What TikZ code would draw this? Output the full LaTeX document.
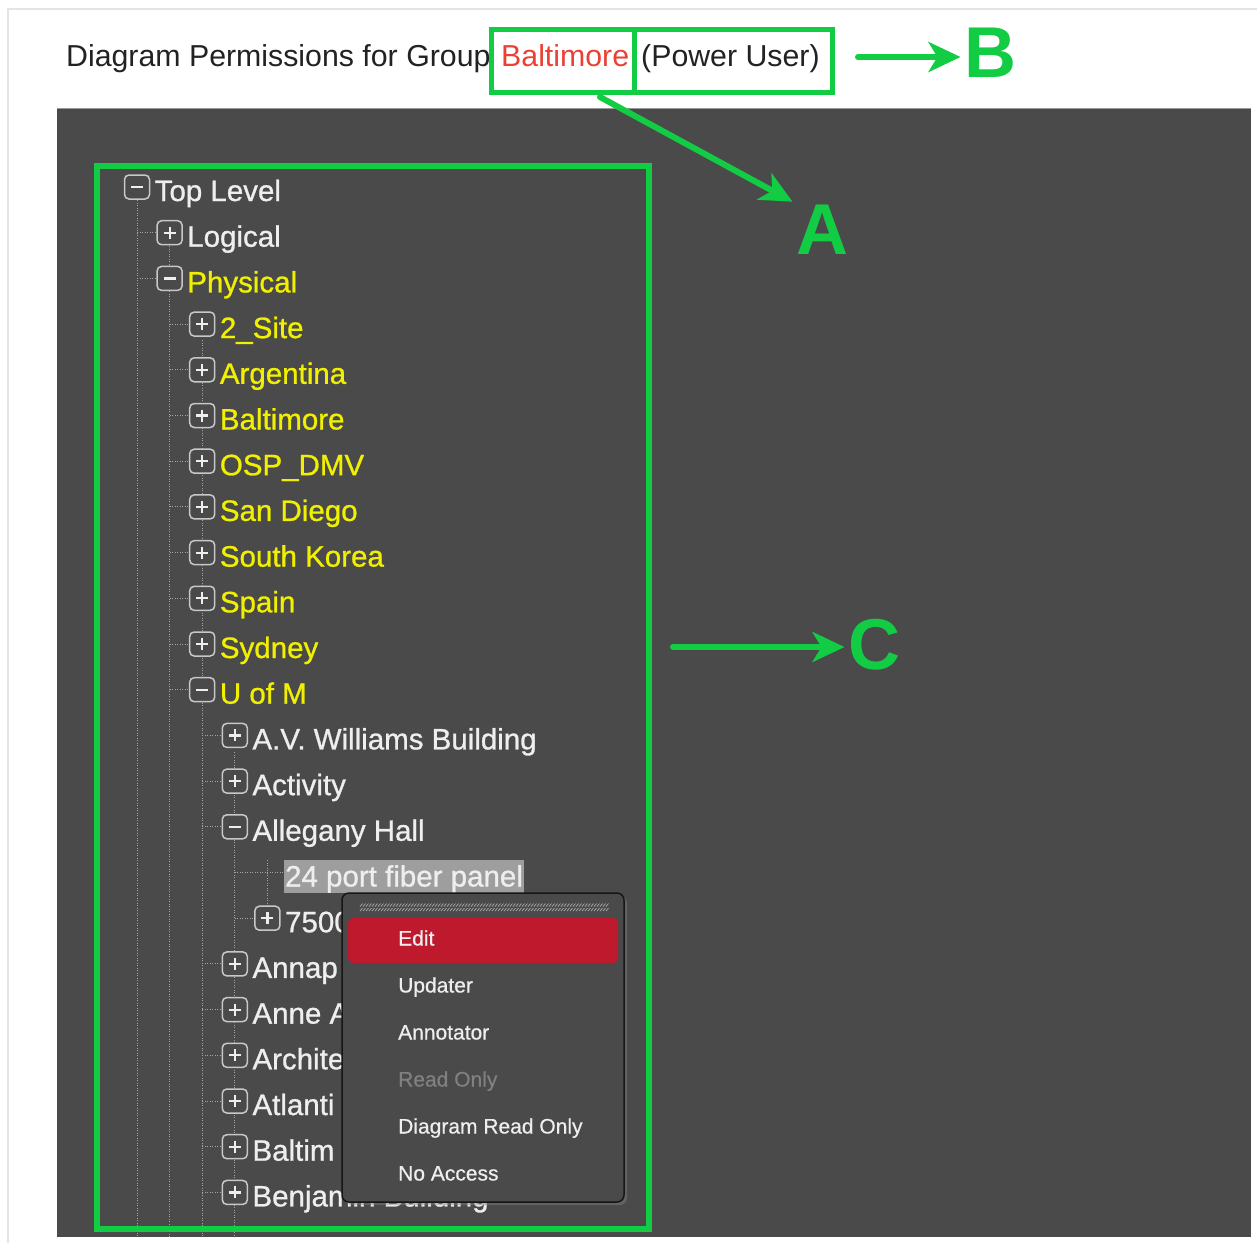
\documentclass[tikz,border=0pt]{standalone}
\usepackage{fontspec}
\setmainfont{Liberation Sans}
\newfontfamily\treefont[FakeBold=0.9]{Liberation Sans}
\newfontfamily\menufont[FakeBold=0.6]{Liberation Sans}
\usetikzlibrary{arrows.meta,shadows,positioning}
\definecolor{markgreen}{RGB}{18,204,68}
\definecolor{panelgray}{RGB}{74,74,74}
\definecolor{pageline}{RGB}{228,228,228}
\definecolor{hdrblack}{RGB}{34,34,34}
\definecolor{grpred}{RGB}{235,64,52}
\definecolor{treewhite}{RGB}{238,238,238}
\definecolor{treeyellow}{RGB}{240,240,0}
\definecolor{dotgray}{RGB}{165,165,165}
\definecolor{iconline}{RGB}{200,200,200}
\definecolor{selgray}{RGB}{158,158,158}
\definecolor{menuedge}{RGB}{22,22,22}
\definecolor{editred}{RGB}{190,25,45}
\definecolor{menudim}{RGB}{128,128,128}

\tikzset{
  hdrtext/.style={inner sep=0pt, text=hdrblack, font=\fontsize{30.3}{32}\selectfont},
  treetext/.style={inner sep=0pt, font=\treefont\fontsize{29.5}{31}\selectfont},
  selnode/.style={fill=selgray, inner xsep=1.5pt, inner ysep=0pt, text height=26.5pt, text depth=6.5pt},
  treeline/.style={draw=dotgray, line width=1pt, dash pattern=on 1pt off 1.5pt},
  expbox/.style={draw=iconline, fill=panelgray, line width=1.5pt, rounded corners=4.5pt,
    minimum width=25pt, minimum height=24pt, inner sep=0pt},
  expsign/.style={draw=treewhite, line width=2.2pt},
  menubox/.style={draw=menuedge, fill=panelgray, line width=1.5pt, rounded corners=7pt,
    drop shadow={opacity=0.45, shadow xshift=3pt, shadow yshift=-3pt}},
  edithl/.style={fill=editred, rounded corners=5pt, inner sep=0pt},
  menuitem/.style={inner sep=0pt, font=\menufont\fontsize{21}{23}\selectfont},
  grip/.style={draw=gray!75, line width=0.8pt},
  markbox/.style={draw=markgreen, line width=5pt, inner sep=0pt},
  marklbl/.style={text=markgreen, font=\fontsize{72}{72}\selectfont\bfseries},
  markarrow/.style={draw=markgreen, line width=6pt, line cap=round,
    -{Stealth[length=32pt, width=30pt, inset=9pt]}}
}

\begin{document}
\begin{tikzpicture}[x=1pt,y=-1pt]
  \useasboundingbox (0,0) rectangle (1257,1243);
  \fill[white] (0,0) rectangle (1257,1243);
  \draw[pageline, line width=2pt] (8,1243) -- (8,9) -- (1257,9);

  % header line
  \node[hdrtext, anchor=base west] (hdr) at (66,66) {Diagram Permissions for Group};
  \node[hdrtext, text=grpred, anchor=base west] (grp) at (501,66) {Baltimore};
  \node[hdrtext, anchor=base west] (role) at (641,66) {(Power User)};

  % dark tree panel
  \fill[panelgray] (57,108) rectangle (1251,1237);
  \draw[gray!80, line width=1pt] (57,108.5) -- (1251,108.5);

  % tree guide lines
  \draw[treeline] (137,200) -- (137,1237);
  \draw[treeline] (169.6,246) -- (169.6,1237);
  \draw[treeline] (202.2,340) -- (202.2,1237);
  \draw[treeline] (234.8,752) -- (234.8,1237);
  \draw[treeline] (267.4,860) -- (267.4,915);

  % tree rows: level / text / colour / sign (0 minus, 1 plus, 2 leaf)
  \foreach \lvl/\txt/\col/\sym [count=\i from 0] in {
      0/Top Level/treewhite/0, 1/Logical/treewhite/1, 1/Physical/treeyellow/0,
      2/2\_Site/treeyellow/1, 2/Argentina/treeyellow/1, 2/Baltimore/treeyellow/1,
      2/OSP\_DMV/treeyellow/1, 2/San Diego/treeyellow/1, 2/South Korea/treeyellow/1,
      2/Spain/treeyellow/1, 2/Sydney/treeyellow/1, 2/U of M/treeyellow/0,
      3/A.V. Williams Building/treewhite/1, 3/Activity/treewhite/1,
      3/Allegany Hall/treewhite/0, 4/24 port fiber panel/treewhite/2,
      4/7500/treewhite/1, 3/Annap/treewhite/1, 3/Anne A/treewhite/1,
      3/Archite/treewhite/1, 3/Atlanti/treewhite/1, 3/Baltim/treewhite/1,
      3/Benjamin Building/treewhite/1}{
    \pgfmathsetmacro\ix{137+32.6*\lvl}
    \pgfmathsetmacro\px{\ix-32.6}
    \pgfmathsetmacro\ry{191+45.7*\i}
    \pgfmathsetmacro\iy{\ry-4}
    \pgfmathsetmacro\by{\ry+10}
    \pgfmathsetmacro\hx{\sym==2 ? 283 : \ix-12}
    \ifnum\lvl>0 \draw[treeline] (\px,\iy) -- (\hx,\iy); \fi
    \ifnum\sym<2
      \node[expbox] (ic\i) at (\ix,\iy) {};
      \draw[expsign] (ic\i.center) ++(-6,0) -- ++(12,0);
      \ifnum\sym=1 \draw[expsign] (ic\i.center) ++(0,-6) -- ++(0,12); \fi
    \fi
    \ifnum\sym=2
      \node[treetext, selnode, text=\col, anchor=base west] (r\i) at (\ix+16,\by) {\txt};
    \else
      \node[treetext, text=\col, anchor=base west] (r\i) at (\ix+17.5,\by) {\txt};
    \fi
  }

  % context menu
  \node[menubox, minimum width=282pt, minimum height=309pt] (menu) at (483,1047.5) {};
  \foreach \g in {0,...,82}{
    \draw[grip] (360+3*\g,906.5) -- ++(2.5,-3);
    \draw[grip] (360+3*\g,911) -- ++(2.5,-3);
  }
  \node[edithl, minimum width=270pt, minimum height=45pt] (edit) at (483,940.5) {};
  \foreach \m/\c [count=\k from 0] in {Edit/treewhite, Updater/treewhite,
      Annotator/treewhite, Read Only/menudim, Diagram Read Only/treewhite,
      No Access/treewhite}{
    \pgfmathsetmacro\my{945.5+47*\k}
    \node[menuitem, text=\c, anchor=base west] (m\k) at (398,\my) {\m};
  }

  % green marks
  \node[markbox, minimum width=143pt, minimum height=63pt] (boxgrp) at (562.5,60.5) {};
  \node[markbox, minimum width=198pt, minimum height=63pt] (boxrole) at (733,60.5) {};
  \node[markbox, line width=6pt, minimum width=552pt, minimum height=1063pt] (boxtree) at (373,697.5) {};
  \node[marklbl] (lblA) at (822,230) {A};
  \node[marklbl] (lblB) at (990,53) {B};
  \node[marklbl] (lblC) at (874,645) {C};
  \coordinate (aFrom) at (600,97);
  \coordinate (bFrom) at (858,57);
  \coordinate (cFrom) at (673,647);
  \draw[markarrow] (aFrom) -- (lblA.north west);
  \draw[markarrow] (bFrom) -- (bFrom -| lblB.west);
  \draw[markarrow] (cFrom) -- (cFrom -| lblC.west);
\end{tikzpicture}
\end{document}
